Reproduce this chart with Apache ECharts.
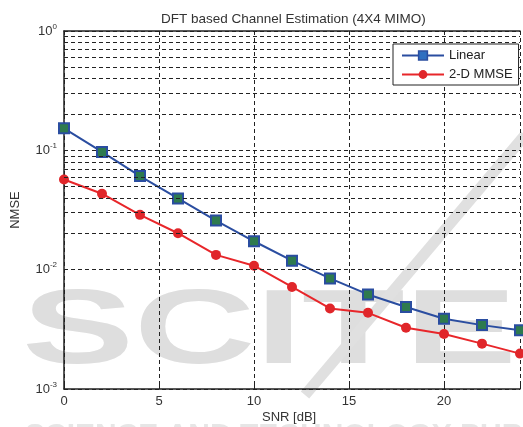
<!DOCTYPE html>
<html>
<head>
<meta charset="utf-8">
<script src="https://cdn.jsdelivr.net/npm/echarts@6/dist/echarts.min.js"></script>
<style>
  html, body { margin: 0; padding: 0; background: #fff; }
  #chart { width: 523px; height: 427px; }
</style>
</head>
<body>
<div id="chart"></div>
<script>
// SNR points (dB)
const snr = [0, 2, 4, 6, 8, 10, 12, 14, 16, 18, 20, 22, 24];
// NMSE
const linearNmse = [0.153, 0.097, 0.0608, 0.0395, 0.0258, 0.0173, 0.0119, 0.00845, 0.0062, 0.00486, 0.00388, 0.00343, 0.00311];
const mmseNmse = [0.057, 0.0433, 0.0288, 0.0202, 0.0133, 0.0108, 0.00716, 0.00473, 0.00435, 0.00326, 0.00289, 0.0024, 0.00198];
// minor grid lines of the log axis
const minorTicks = [
  0.002, 0.003, 0.004, 0.005, 0.006, 0.007, 0.008, 0.009,
  0.02, 0.03, 0.04, 0.05, 0.06, 0.07, 0.08, 0.09,
  0.2, 0.3, 0.4, 0.5, 0.6, 0.7, 0.8, 0.9
];

const chart = echarts.init(document.getElementById('chart'));
const font = 'Liberation Sans, Arial, sans-serif';
const dash = [4, 3];
const gridColor = '#222';

const option = {
  animation: false,
  backgroundColor: '#fff',
  title: {
    text: 'DFT based Channel Estimation (4X4 MIMO)',
    left: 156,
    top: 7,
    textStyle: { fontFamily: font, fontSize: 13.5, fontWeight: 'normal', color: '#333' }
  },
  legend: {
    left: 393,
    top: 44,
    z: 20,
    orient: 'vertical',
    backgroundColor: '#fff',
    borderColor: '#222',
    borderWidth: 1,
    borderRadius: 0,
    padding: [5, 6, 4, 8],
    itemGap: 6,
    itemWidth: 42,
    itemHeight: 11,
    textStyle: { fontFamily: font, fontSize: 13, color: '#222' },
    data: [
      { name: 'Linear', itemStyle: { color: '#2f6fc0', borderColor: '#2a4da0', borderWidth: 1.5 } },
      { name: '2-D MMSE' }
    ]
  },
  grid: { left: 64, top: 31, bottom: 38, right: 0 },
  xAxis: [
    {
      type: 'value',
      min: 0,
      max: 24,
      interval: 5,
      axisLine: { lineStyle: { color: '#222', width: 1.5 } },
      axisTick: { inside: true, length: 4, lineStyle: { color: '#222' } },
      axisLabel: {
        fontFamily: font, fontSize: 13, color: '#333', margin: 6,
        formatter: function (v) { return v % 5 === 0 ? String(v) : ''; }
      },
      splitLine: { show: true, lineStyle: { color: gridColor, type: dash, width: 1 } }
    },
    {
      type: 'value',
      position: 'top',
      min: 0,
      max: 24,
      interval: 5,
      axisLine: { show: true, onZero: false, lineStyle: { color: '#222', width: 1.5 } },
      axisTick: { show: true, inside: true, length: 4, lineStyle: { color: '#222' } },
      axisLabel: { show: false },
      splitLine: { show: false }
    }
  ],
  yAxis: {
    type: 'log',
    logBase: 10,
    min: 0.001,
    max: 1,
    name: 'NMSE',
    nameLocation: 'middle',
    nameGap: 42,
    nameTextStyle: { fontFamily: font, fontSize: 13, color: '#333' },
    axisLine: { show: true, lineStyle: { color: '#222', width: 1.5 } },
    axisTick: { inside: true, length: 4, lineStyle: { color: '#222' } },
    axisLabel: {
      margin: 7,
      formatter: function (v) {
        return '{b|10}{s|' + Math.round(Math.log10(v)) + '}';
      },
      rich: {
        b: { fontFamily: font, fontSize: 13, color: '#333' },
        s: { fontFamily: font, fontSize: 8, color: '#333', padding: [0, 0, 9, 0] }
      }
    },
    splitLine: { show: true, lineStyle: { color: gridColor, type: dash, width: 1 } }
  },
  graphic: [
    {
      type: 'text',
      z: -10,
      left: 22,
      top: 282,
      scaleX: 1.6,
      style: {
        text: 'SCITEPRESS',
        font: 'bold 105px Liberation Sans, Arial, sans-serif',
        fill: '#dedede'
      }
    },
    {
      type: 'line',
      z: -10,
      shape: { x1: 525, y1: 135, x2: 305, y2: 395 },
      style: { stroke: '#e0e0e0', lineWidth: 11 }
    },
    {
      type: 'text',
      z: -10,
      left: 25,
      top: 421,
      style: {
        text: 'SCIENCE AND TECHNOLOGY PUBLICATIONS',
        font: 'bold 30px Liberation Sans, Arial, sans-serif',
        fill: '#e6e6e6'
      }
    },
    {
      type: 'text',
      left: 262,
      top: 411,
      style: {
        text: 'SNR [dB]',
        font: '13px Liberation Sans, Arial, sans-serif',
        fill: '#333'
      }
    }
  ],
  series: [
    {
      name: 'minor',
      type: 'line',
      data: snr.map((x, i) => [x, linearNmse[i]]),
      symbol: 'none',
      lineStyle: { opacity: 0 },
      silent: true,
      z: 1,
      markLine: {
        silent: true,
        symbol: 'none',
        label: { show: false },
        lineStyle: { color: gridColor, type: dash, width: 1 },
        data: minorTicks.map(v => ({ yAxis: v }))
      }
    },
    {
      name: 'Linear',
      type: 'line',
      z: 3,
      data: snr.map((x, i) => [x, linearNmse[i]]),
      symbol: 'rect',
      symbolSize: 10,
      lineStyle: { color: '#2a4da0', width: 2 },
      itemStyle: { color: '#2e7a4e', borderColor: '#2a4da0', borderWidth: 2 }
    },
    {
      name: '2-D MMSE',
      type: 'line',
      z: 4,
      data: snr.map((x, i) => [x, mmseNmse[i]]),
      symbol: 'circle',
      symbolSize: 10,
      lineStyle: { color: '#e8262a', width: 2 },
      itemStyle: { color: '#e0262a' }
    }
  ]
};

chart.setOption(option);
</script>
</body>
</html>
